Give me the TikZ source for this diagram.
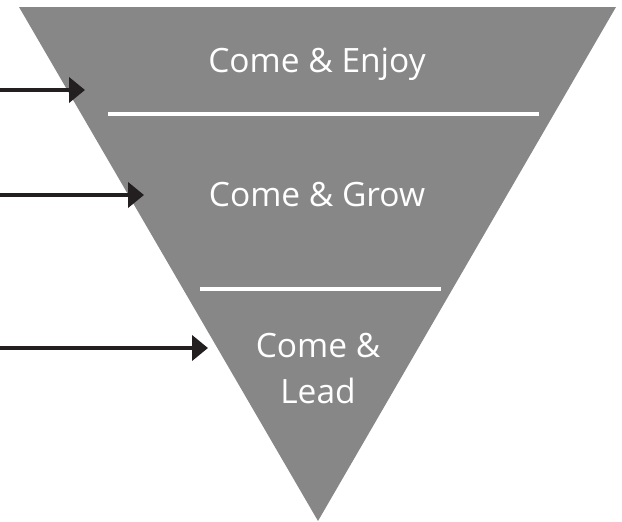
\documentclass[tikz,border=0pt]{standalone}
\usepackage{fontspec}
\setmainfont{Open Sans}
\usetikzlibrary{arrows.meta}
\definecolor{funnel}{HTML}{878787}
\definecolor{arrowc}{HTML}{231F20}
\tikzset{
  lbl/.style={text=white, font=\fontsize{33.5}{46}\selectfont, align=center, inner sep=0pt, anchor=base},
  sep/.style={draw=white, line width=4pt},
  pointer/.style={draw=arrowc, line width=4pt, -{Triangle[length=16pt,width=25pt]}},
}
\begin{document}
\begin{tikzpicture}[x=1pt,y=-1pt]
\useasboundingbox (0,0) rectangle (622,522);
\fill[funnel] (19,7) -- (616,7) -- (318,521) -- cycle;
\draw[sep] (108,114) -- (539,114);
\draw[sep] (200,289) -- (441,289);
\node[lbl] (enjoy) at (317,72) {Come \& Enjoy};
\node[lbl] (grow) at (317,206) {Come \& Grow};
\node[lbl] (lead) at (318,403) {Come \&\\Lead};
\coordinate (s1) at (0,90);
\coordinate (t1) at (85,90);
\coordinate (s2) at (0,195);
\coordinate (t2) at (144,195);
\coordinate (s3) at (0,348);
\coordinate (t3) at (208,348);
\draw[pointer] (s1) -- (t1);
\draw[pointer] (s2) -- (t2);
\draw[pointer] (s3) -- (t3);
\end{tikzpicture}
\end{document}
